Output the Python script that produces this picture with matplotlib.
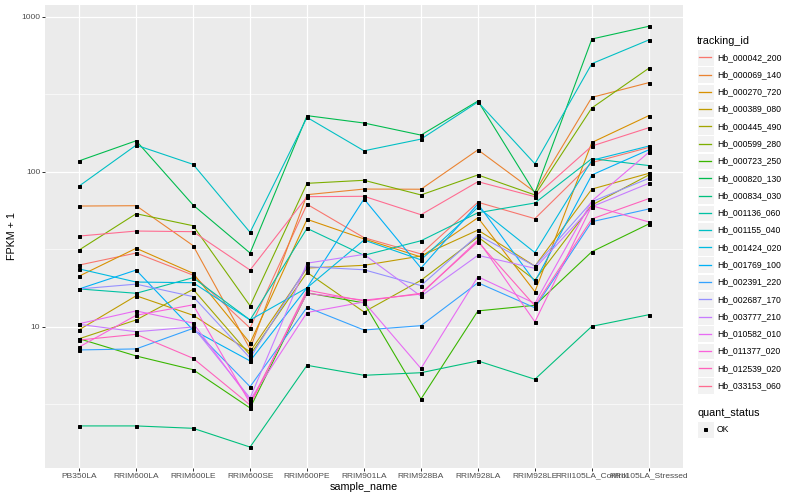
import numpy as np
import matplotlib.pyplot as plt
from matplotlib.lines import Line2D
from matplotlib.patches import Rectangle

plt.rcParams['font.family'] = ['Liberation Sans', 'DejaVu Sans']

samples = ["PB350LA", "RRIM600LA", "RRIM600LE", "RRIM600SE", "RRIM600PE", "RRIM901LA",
           "RRIM928BA", "RRIM928LA", "RRIM928LE", "RRII105LA_Control", "RRII105LA_Stressed"]

tracking_ids = ["Hb_000042_200", "Hb_000069_140", "Hb_000270_720", "Hb_000389_080",
                "Hb_000445_490", "Hb_000599_280", "Hb_000723_250", "Hb_000820_130",
                "Hb_000834_030", "Hb_001136_060", "Hb_001155_040", "Hb_001424_020",
                "Hb_001769_100", "Hb_002391_220", "Hb_002687_170", "Hb_003777_210",
                "Hb_010582_010", "Hb_011377_020", "Hb_012539_020", "Hb_033153_060"]

# FPKM + 1 per sample
hb_000042_200 = [25.1, 30.0, 21.6, 9.85, 61.9, 37.7, 29.6, 63.8, 50.0, 115, 144]
hb_000069_140 = [60.3, 60.6, 33.5, 7.22, 71.4, 77.6, 77.4, 139, 74.3, 303, 377]
hb_000270_720 = [21.3, 32.2, 22.2, 7.88, 49.5, 37.0, 28.3, 50.7, 16.9, 155, 231]
hb_000389_080 = [9.6, 15.9, 11.9, 6.93, 24.0, 25.0, 28.7, 42.2, 24.7, 77.6, 98]
hb_000445_490 = [8.4, 11.1, 17.5, 6.6, 22.5, 12.5, 20.0, 38.1, 20.1, 61.2, 95.7]
hb_000599_280 = [31.4, 53.8, 45.0, 13.7, 84.5, 88.4, 71.1, 95.7, 71.1, 259, 467]
hb_000723_250 = [8.4, 6.5, 5.3, 3.0, 16.6, 14.3, 3.43, 12.7, 13.8, 30.6, 46.2]
hb_000820_130 = [118, 159, 61.2, 30.0, 231, 207, 173, 287, 73.2, 721, 871]
hb_000834_030 = [2.30, 2.30, 2.22, 1.68, 5.66, 4.88, 5.07, 6.04, 4.6, 10.1, 12.0]
hb_001136_060 = [17.6, 16.5, 20.8, 11.1, 43.3, 29.0, 36.0, 54.6, 63.1, 122, 110]
hb_001155_040 = [81.2, 149, 112, 40.8, 225, 137, 163, 283, 113, 500, 711]
hb_001424_020 = [23.7, 19.5, 19.3, 11.1, 17.9, 36.4, 27.1, 59.2, 30.2, 119, 147]
hb_001769_100 = [17.6, 23.3, 9.56, 6.04, 17.9, 67.0, 24.0, 62.2, 19.6, 95.7, 139]
hb_002391_220 = [7.11, 7.22, 9.8, 4.12, 13.4, 9.56, 10.2, 19.3, 13.3, 47.8, 57.7]
hb_002687_170 = [17.6, 18.9, 15.7, 6.31, 24.5, 23.4, 18.5, 39.2, 24.7, 64.3, 91]
hb_003777_210 = [10.4, 9.32, 10.0, 3.48, 25.8, 29.4, 15.8, 29.0, 23.9, 59.7, 84.5]
hb_010582_010 = [10.5, 12.7, 10.6, 3.38, 12.4, 14.5, 5.4, 21.1, 14.2, 65, 134]
hb_011377_020 = [7.43, 11.9, 13.9, 3.23, 16.5, 14.9, 16.3, 36.4, 10.8, 60.6, 47.6]
hb_012539_020 = [8.24, 8.97, 6.28, 3.14, 17.3, 14.7, 16.5, 35.5, 13.7, 49.8, 67.3]
hb_033153_060 = [38.6, 41.6, 41.2, 23.3, 69.3, 69.7, 53.0, 86.6, 69.3, 147, 193]

series = [hb_000042_200, hb_000069_140, hb_000270_720, hb_000389_080, hb_000445_490,
          hb_000599_280, hb_000723_250, hb_000820_130, hb_000834_030, hb_001136_060,
          hb_001155_040, hb_001424_020, hb_001769_100, hb_002391_220, hb_002687_170,
          hb_003777_210, hb_010582_010, hb_011377_020, hb_012539_020, hb_033153_060]

# ggplot hue palette, 20 levels
colors = ["#F8766D", "#EA8331", "#D89000", "#C09B00", "#A3A500", "#7CAE00", "#39B600",
          "#00BB4E", "#00BF7D", "#00C1A3", "#00BFC4", "#00BAE0", "#00B0F6", "#35A2FF",
          "#9590FF", "#C77CFF", "#E76BF3", "#FA62DB", "#FF62BC", "#FF6C91"]

W, H = 800, 500
fig = plt.figure(figsize=(W / 72, H / 72), dpi=72)
ax = fig.add_axes([45 / W, 1 - 468 / H, (683 - 45) / W, (468 - 5) / H])
ax.set_facecolor("#EBEBEB")

x = np.arange(len(samples))
for vals, c in zip(series, colors):
    ax.plot(x, vals, color=c, lw=1.1, zorder=3)
for vals in series:
    ax.plot(x, vals, ls="none", marker="s", ms=3.0, color="black", zorder=4)

ax.set_yscale("log")
ax.set_ylim(1.231, 1195)
ax.set_xlim(-0.6, len(samples) - 0.4)
ax.set_yticks([10, 100, 1000])
ax.set_yticklabels(["10", "100", "1000"])
ax.set_yticks([10 ** 0.5, 10 ** 1.5, 10 ** 2.5], minor=True)
ax.yaxis.set_minor_formatter(plt.NullFormatter())
ax.set_xticks(x)
ax.set_xticklabels(samples)

ax.grid(which="major", color="white", lw=1.2, zorder=1)
ax.grid(which="minor", axis="y", color="white", lw=0.6, zorder=1)
ax.set_axisbelow(True)
for s in ax.spines.values():
    s.set_visible(False)
ax.tick_params(which="major", length=2.75, width=1.0, color="#333333",
               labelcolor="#4D4D4D", labelsize=8.4, pad=2)
ax.tick_params(which="minor", length=0)

ax.set_xlabel("sample_name", fontsize=10.8, labelpad=2)
ax.set_ylabel("FPKM + 1", fontsize=10.8, labelpad=4)

# legend drawn by hand in figure pixels
def fy(py):
    return 1 - py / H

fig.text(697 / W, fy(40.7), "tracking_id", fontsize=10.8, va="center", ha="left")
for i, (tid, c) in enumerate(zip(tracking_ids, colors)):
    cy = 57.3 + 17.28 * i
    fig.patches.append(Rectangle((697 / W, fy(cy + 8.3)), 16.6 / W, 16.6 / H,
                                 transform=fig.transFigure, facecolor="#F2F2F2",
                                 edgecolor="white", lw=1, zorder=1))
    fig.lines.append(Line2D([699 / W, 711 / W], [fy(cy), fy(cy)], color=c, lw=1.3,
                            transform=fig.transFigure, zorder=5))
    fig.text(717 / W, fy(cy), tid, fontsize=8.6, va="center", ha="left")

fig.text(697 / W, fy(412.7), "quant_status", fontsize=10.8, va="center", ha="left")
fig.patches.append(Rectangle((697 / W, fy(429.3 + 8.3)), 16.6 / W, 16.6 / H,
                             transform=fig.transFigure, facecolor="#F2F2F2",
                             edgecolor="white", lw=1, zorder=1))
fig.lines.append(Line2D([705.3 / W], [fy(429.3)], ls="none", marker="s", ms=3.0,
                        color="black", transform=fig.transFigure, zorder=5))
fig.text(717 / W, fy(429.3), "OK", fontsize=8.6, va="center", ha="left")

fig.savefig("out.png", dpi=72, facecolor="white")
